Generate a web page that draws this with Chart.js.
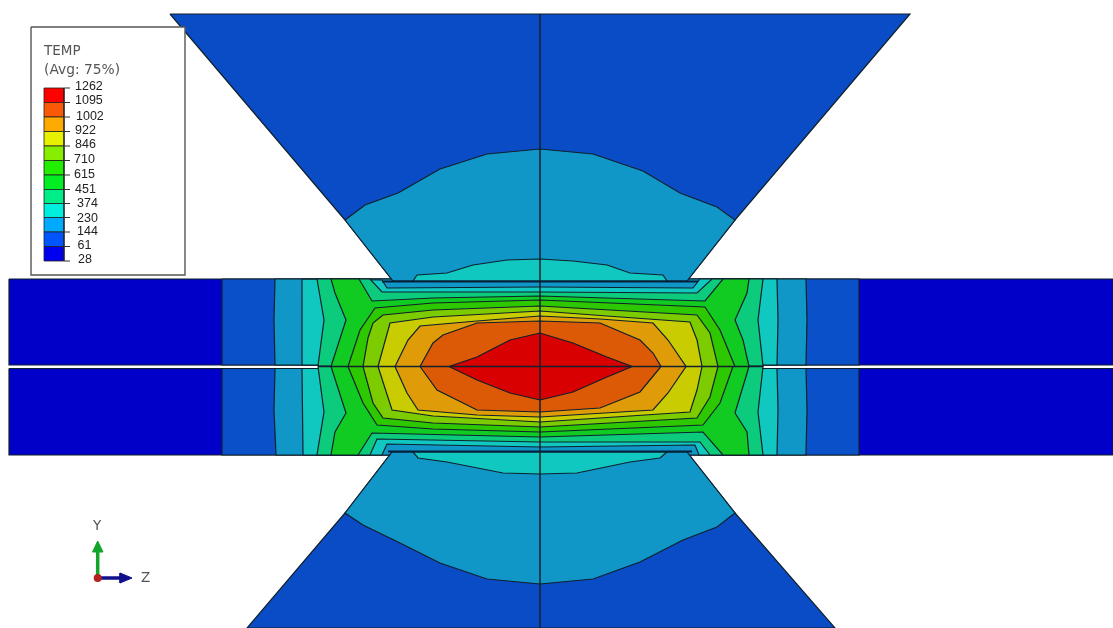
<!DOCTYPE html>
<html>
<head>
<meta charset="utf-8">
<style>
body { margin: 0; background: #fff; }
canvas { display: block; filter: blur(0.45px); }
</style>
<script src="https://cdn.jsdelivr.net/npm/chart.js@4"></script>
</head>
<body>
<canvas id="contour" width="1113" height="628"></canvas>
<script>
// contour levels, cold to hot
var levels = [28, 61, 144, 230, 374, 451, 615, 710, 846, 922, 1002, 1095, 1262];
var legendLabels = ['1262', '1095', '1002', '922', '846', '710', '615', '451', '374', '230', '144', '61', '28'];

// upper plate, outlines
var upper28 = [[9,279],[1113,279],[1113,365],[9,365]];
var upper61 = [[222,279],[859,279],[859,365],[222,365]];
var upper144 = [[275,279],[806,279],[807,320],[806,365],[275,365],[274,320]];
var upper230 = [[302,279],[382,280],[387,288],[540,287],[693,288],[700,279],[777,279],[778,320],[777,365],[302,365]];
var upper374 = [[317,279],[370,279],[382,292],[540,292],[697,293],[712,279],[763,279],[758,320],[763,366],[318,366],[324,320]];
var upper451 = [[331,279],[359,279],[372,301],[433,298],[540,296],[705,301],[723,279],[749,279],[747,293],[735,320],[743,340],[749,366.5],[331,366.5],[346,320],[335,293]];
var upper615 = [[348,366.5],[360,330],[375,308],[433,303],[540,300],[705,307],[720,330],[735,366.5]];
var upper710 = [[363,366.5],[368,338],[373,323],[383,315],[433,310],[540,306],[697,315],[710,333],[718,366.5]];
var upper846 = [[378,366.5],[390,323],[433,317],[540,311],[607,316],[690,322],[697,340],[702,366.5]];
var upper922 = [[395,366.5],[408,340],[420,326],[477,321],[540,316],[600,319],[653,323],[668,340],[686,366.5]];
var upper1002 = [[420,366.5],[433,343],[443,335],[477,323],[540,321],[600,323],[640,340],[653,353],[661,366.5]];
var upper1095 = [[449,366.5],[477,357],[510,340],[540,333],[573,343],[607,357],[632,366.5]];

// lower plate
var lower28 = [[9,368.5],[1113,368.5],[1113,455],[9,455]];
var lower61 = [[222,368.5],[859,368.5],[859,455],[222,455]];
var lower144 = [[275,368.5],[806,368.5],[807,410],[806,455],[276,455],[274,410]];
var lower230 = [[302,368.5],[777,368.5],[778,410],[777,455],[699,455],[695,445],[540,447],[387,444],[382,455],[303,455]];
var lower374 = [[318,366.5],[763,366.5],[758,412],[763,455],[710,455],[700,442],[540,442],[377,439],[370,455],[317,455],[324,412]];
var lower451 = [[331,366.5],[749,366.5],[735,413],[747,432],[749,455],[723,455],[703,432],[540,437],[372,433],[358,455],[331,455],[335,432],[346,413]];
var lower615 = [[348,366.5],[733,366.5],[720,403],[703,425],[540,432],[433,429],[377,425],[363,403]];
var lower710 = [[363,366.5],[718,366.5],[710,397],[697,418],[540,427],[433,423],[383,418],[373,403]];
var lower846 = [[378,366.5],[702,366.5],[697,390],[690,412],[540,422],[433,416],[392,410]];
var lower922 = [[395,366.5],[686,366.5],[668,393],[653,410],[540,417],[477,415],[418,410],[407,393]];
var lower1002 = [[420,366.5],[661,366.5],[640,392],[600,408],[540,412],[477,410],[437,390]];
var lower1095 = [[449,366.5],[632,366.5],[607,377],[573,392],[540,400],[510,393],[477,380]];

// electrodes
var dieTop = [[170,14],[910,14],[735,220],[687,281],[393,281],[345,220]];
var dieTopWarm = [[345,220],[365,205],[398,193],[440,169],[487,154],[540,149],[593,154],[643,171],[680,193],[717,207],[735,220],[687,281],[393,281]];
var dieTopHot = [[413,281],[417,275],[447,273],[473,265],[507,260],[540,259],[573,261],[607,265],[630,273],[663,275],[667,281]];
var dieBottom = [[392,452],[687,452],[735,513],[835,628],[247,628],[345,513]];
var dieBottomWarm = [[392,452],[687,452],[735,513],[717,527],[683,540],[640,562],[593,579],[540,584],[487,579],[440,563],[398,542],[363,525],[345,513]];
var dieBottomHot = [[413,452],[667,452],[660,458],[630,462],[577,473],[540,474],[503,473],[447,462],[418,458]];

// lines
var centerV = [[540,14],[540,628]];
var centerH = [[318,366.5],[762,366.5]];
var contactTop = [[382,281.5],[698,281.5]];
var contactBottom = [[388,451.5],[692,451.5]];

// legend
var legendBox = [[31,27],[185,27],[185,275],[31,275]];
var legendEdges = [88,102.5,117,131.5,146,160.5,175,189.5,203.5,217.5,232,246.5,261];
var legendTextX = [75,75,76,75,75,74,74,75,77,77,77,77.5,78];
var legendTextY = [87,101,116.5,130.5,145,160,175,190,203.5,218.5,232,245.5,260];

// triad
var axisY = [[97.7,578],[97.7,550]];
var axisYHead = [[92.5,552],[103,552],[97.7,541]];
var axisZ = [[97.7,578],[122,578]];
var axisZHead = [[120,573],[120,583],[132,578]];
var axisOrigin = [[97.7,578]];

var contourColors = ['#0000c8','#0a50c8','#1196c8','#10c8c0','#0ccb7c','#12cb22','#2ec800','#7ccc00','#c8cc00','#e09c08','#dc5a05','#d80000'];
var legendColors = ['#ff0000','#fa5a08','#ffaa00','#e6f000','#88ee00','#22ee00','#00ee22','#00ee88','#00eedd','#00aaff','#0055ff','#0000ee'];
var lineColor = '#10202c';

var datasets = [];
function toPts(list) {
    var pts = [];
    for (var i = 0; i < list.length; i++) {
        pts.push({ x: list[i][0], y: list[i][1] });
    }
    return pts;
}
function addShape(list, color, border, width) {
    var pts = toPts(list);
    pts.push(pts[0]);
    datasets.push({
        data: pts, showLine: true, fill: 'shape', backgroundColor: color,
        borderColor: border, borderWidth: width, pointRadius: 0, tension: 0, clip: false
    });
}
function addLine(list, color, width) {
    datasets.push({
        data: toPts(list), showLine: true, fill: false,
        borderColor: color, borderWidth: width, pointRadius: 0, tension: 0, clip: false
    });
}

var upper = [upper28, upper61, upper144, upper230, upper374, upper451, upper615, upper710, upper846, upper922, upper1002, upper1095];
var lower = [lower28, lower61, lower144, lower230, lower374, lower451, lower615, lower710, lower846, lower922, lower1002, lower1095];
for (var i = 0; i < upper.length; i++) {
    addShape(upper[i], contourColors[i], lineColor, 1.2);
}
for (var i = 0; i < lower.length; i++) {
    addShape(lower[i], contourColors[i], lineColor, 1.2);
}
addShape(dieTop, '#0a4cc6', lineColor, 1.2);
addShape(dieTopWarm, '#1196c8', lineColor, 1.2);
addShape(dieTopHot, '#10c8c0', lineColor, 1.2);
addShape(dieBottom, '#0a4cc6', lineColor, 1.2);
addShape(dieBottomWarm, '#1196c8', lineColor, 1.2);
addShape(dieBottomHot, '#10c8c0', lineColor, 1.2);
addLine(centerH, lineColor, 1.4);
addLine(contactTop, '#06203c', 2);
addLine(contactBottom, '#06203c', 2);
addLine(centerV, lineColor, 1.5);

addShape(legendBox, '#ffffff', '#555555', 1.4);
for (var i = 0; i < legendColors.length; i++) {
    var swTop = legendEdges[i], swBottom = legendEdges[i + 1];
    addShape([[44,swTop],[64,swTop],[64,swBottom],[44,swBottom]], legendColors[i], '#222222', 0.8);
}
for (var i = 0; i < legendEdges.length; i++) {
    addLine([[64,legendEdges[i]],[70,legendEdges[i]]], '#333333', 1);
}

addLine(axisY, '#12a52a', 3.5);
addShape(axisYHead, '#12a52a', '#12a52a', 1);
addLine(axisZ, '#10108c', 3.5);
addShape(axisZHead, '#10108c', '#10108c', 1);
datasets.push({ data: toPts(axisOrigin), pointRadius: 4, backgroundColor: '#b52020', borderWidth: 0, clip: false });

// first dataset sits on top by default, so count down to keep list order
for (var i = 0; i < datasets.length; i++) {
    datasets[i].order = datasets.length - i;
}

var textPlugin = {
    id: 'plotText',
    afterDatasetsDraw: function (chart) {
        var ctx = chart.ctx, sx = chart.scales.x, sy = chart.scales.y;
        function put(text, x, y, font, color) {
            ctx.font = font;
            ctx.fillStyle = color;
            ctx.fillText(text, sx.getPixelForValue(x), sy.getPixelForValue(y));
        }
        ctx.save();
        ctx.textBaseline = 'middle';
        ctx.textAlign = 'left';
        put('TEMP', 44, 51, '13.5px "DejaVu Sans"', '#555555');
        put('(Avg: 75%)', 44, 70, '13.8px "DejaVu Sans"', '#555555');
        for (var i = 0; i < legendLabels.length; i++) {
            put(legendLabels[i], legendTextX[i], legendTextY[i], '12.5px "Liberation Sans"', '#222222');
        }
        put('Y', 93, 526, '13.5px "DejaVu Sans"', '#555555');
        put('Z', 141, 578, '13.5px "DejaVu Sans"', '#555555');
        ctx.restore();
    }
};

new Chart(document.getElementById('contour'), {
    type: 'scatter',
    data: { datasets: datasets },
    plugins: [textPlugin],
    options: {
        responsive: false,
        animation: false,
        layout: { padding: 0, autoPadding: false },
        plugins: { legend: { display: false }, tooltip: { enabled: false } },
        scales: {
            x: { type: 'linear', min: 0, max: 1113, display: false },
            y: { type: 'linear', min: 0, max: 628, reverse: true, display: false }
        }
    }
});
</script>
</body>
</html>
